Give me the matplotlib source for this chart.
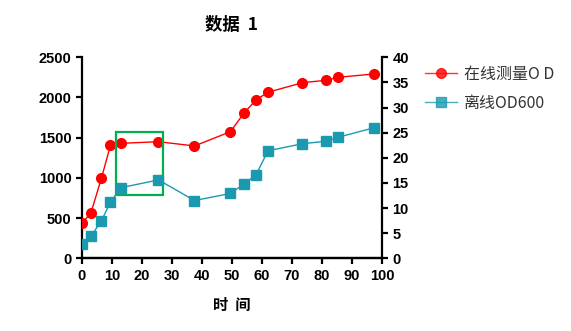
import matplotlib
matplotlib.use("Agg")
import matplotlib.pyplot as plt
from matplotlib.patches import Rectangle

plt.rcParams['font.family'] = ['Liberation Sans', 'Noto Sans CJK SC', 'DejaVu Sans']

# time points
t = [0, 3, 6.5, 9.5, 13, 25.5, 37.5, 49.5, 54, 58, 62, 73.5, 81.5, 85.5, 97.5]
# online OD (left axis)
od_online = [435, 567, 999, 1406, 1430, 1450, 1397, 1575, 1807, 1969, 2065, 2184, 2214, 2251, 2293]
# offline OD600 (right axis)
od600 = [2.9, 4.4, 7.5, 11.2, 14.05, 15.6, 11.5, 12.9, 14.8, 16.6, 21.4, 22.8, 23.3, 24.1, 26.0]

red = '#FF0000'
teal = '#1B9AAF'

fig = plt.figure(figsize=(5.71, 3.31), dpi=100)
ax = fig.add_axes([0.1436, 0.2196, 0.5254, 0.6074])
ax2 = ax.twinx()

l1, = ax.plot(t, od_online, '-o', color=red, lw=1, ms=7, label='在线测量O D', zorder=3)
l2, = ax2.plot(t, od600, '-s', color=teal, lw=1, ms=7, label='离线OD600', zorder=3)

ax.set_xlim(0, 100)
ax.set_ylim(0, 2500)
ax2.set_ylim(0, 40)
ax.set_xticks(range(0, 101, 10))
ax.set_yticks(range(0, 2501, 500))
ax2.set_yticks(range(0, 41, 5))

for a in (ax, ax2):
    a.spines['top'].set_visible(False)
    for s in a.spines.values():
        s.set_linewidth(1.6)
    a.tick_params(width=1.6, length=4, labelsize=10.5)
    for lab in a.get_xticklabels() + a.get_yticklabels():
        lab.set_fontweight('bold')
ax2.spines['left'].set_visible(False)
ax.spines['right'].set_visible(False)

# highlight box
ax.add_patch(Rectangle((11.3, 784), 15.8, 791, fill=False, ec='#00B050', lw=1.6, zorder=5))

ax.set_title('数据  1', fontsize=12.5, fontweight='bold', family=['Noto Sans CJK SC'], pad=20)
ax.set_xlabel('时  间', fontsize=11, fontweight='bold', family=['Noto Sans CJK SC'], labelpad=10)

leg = fig.legend([l1, l2], ['在线测量O D', '离线OD600'], loc='upper left',
                 bbox_to_anchor=(0.72, 0.845), frameon=False,
                 prop={'family': ['Noto Sans CJK SC'], 'size': 11.5}, handlelength=2,
                 labelspacing=0.75, handletextpad=0.4)
for txt in leg.get_texts():
    txt.set_color('#333333')
for h in leg.legend_handles:
    h.set_alpha(0.8)

fig.savefig('out.png', dpi=100)
